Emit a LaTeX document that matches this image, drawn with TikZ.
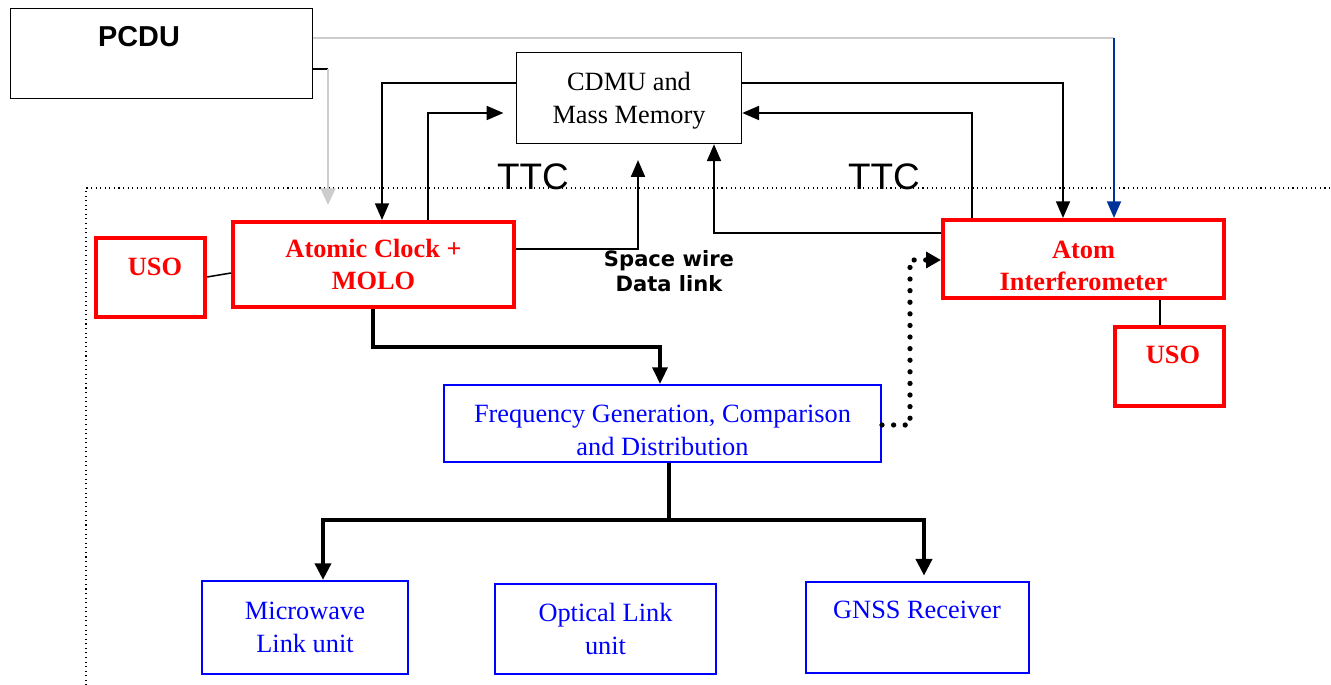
\documentclass[tikz,border=0pt]{standalone}
\usepackage{fontspec}
\setmainfont{Liberation Serif}
\setsansfont{Liberation Sans}
\newfontfamily\wirefont{DejaVu Sans}
\usetikzlibrary{arrows.meta}

\definecolor{powergrey}{RGB}{205,205,205}
\definecolor{busblue}{RGB}{0,51,153}

\tikzset{
  unit_box/.style={draw,line width=0.95pt,inner sep=0pt,align=center,font=\fontsize{15}{18.7}\selectfont},
  red_box/.style={unit_box,draw=red,line width=2.3pt,text=red,font=\fontsize{15}{18.2}\selectfont\bfseries},
  blue_box/.style={unit_box,draw=blue,line width=1.2pt,text=blue},
  unit_text/.style={align=center,font=\fontsize{15}{18.7}\selectfont},
  red_label/.style={align=center,text=red,font=\fontsize{15}{18.2}\selectfont\bfseries},
  blue_label/.style={unit_text,text=blue},
  ttc_label/.style={font=\sffamily\fontsize{21}{24}\selectfont},
  thin_link/.style={line width=0.85pt},
  thin_tip/.style={-{Triangle[length=9.5pt,width=8pt]}},
  clock_link/.style={line width=2.2pt,-{Triangle[length=9.5pt,width=8.5pt]}},
  dist_link/.style={line width=2.8pt,-{Triangle[length=9.5pt,width=9pt]}},
  dot_link/.style={line width=3pt,line cap=round,dash pattern=on 0pt off 6.6pt,-{Triangle[length=8.5pt,width=9pt]}}
}

\begin{document}
\begin{tikzpicture}[x=0.02cm,y=-0.02cm]
\useasboundingbox (0,0) rectangle (1331,685);

% payload frame
\draw[dotted,line width=0.6pt] (86,690) -- (86,188) -- (1340,188);

% units
\node[unit_box,minimum width=6.04cm,minimum height=1.8cm] (pcdu) at (161.5,53.5) {};
\node[font=\sffamily\bfseries\fontsize{16.4}{19}\selectfont] (pcdutext) at (139,37) {PCDU};
\node[unit_box,minimum width=4.5cm,minimum height=1.82cm] (cdmu) at (629,98) {};
\node[unit_text] (cdmutext) at (629,100.5) {CDMU and\\Mass Memory};
\node[red_box,minimum width=5.62cm,minimum height=1.7cm] (clock) at (373.5,264.5) {Atomic Clock +\\MOLO};
\node[red_box,minimum width=2.18cm,minimum height=1.58cm] (usol) at (150.5,277.5) {};
\node[red_label] (usoltext) at (155,267) {USO};
\node[red_box,minimum width=5.62cm,minimum height=1.56cm] (atom) at (1083.5,259) {};
\node[red_label] (atomtext) at (1083.5,265.5) {Atom\\Interferometer};
\node[red_box,minimum width=2.18cm,minimum height=1.58cm] (usor) at (1169.5,366.5) {};
\node[red_label] (usortext) at (1173,355) {USO};
\node[blue_box,minimum width=8.74cm,minimum height=1.54cm] (freq) at (662.5,423.5) {};
\node[blue_label] (freqtext) at (662.5,430.5) {Frequency Generation, Comparison\\and Distribution};
\node[blue_box,minimum width=4.12cm,minimum height=1.86cm] (micro) at (305,627.5) {Microwave\\Link unit};
\node[blue_box,minimum width=4.42cm,minimum height=1.8cm] (optic) at (605.5,629) {Optical Link\\unit};
\node[blue_box,minimum width=4.46cm,minimum height=1.82cm] (gnss) at (917.5,627.5) {};
\node[blue_label] (gnsstext) at (917,610) {GNSS Receiver};

% labels
\node[ttc_label] (ttcl) at (533,177) {TTC};
\node[ttc_label] (ttcr) at (884,177) {TTC};
\node[font=\wirefont\bfseries\fontsize{12}{14.2}\selectfont,align=center] (wire) at (669,271.5) {Space wire\\Data link};

% power
\coordinate (feed) at (1114,38);
\draw[powergrey,line width=1pt] (pcdu.east |- feed) -- (feed);
\draw[busblue,line width=1pt,thin_tip] (feed) -- (atom.north -| feed);
\draw[line width=1pt] (pcdu.east |- 0,69) -- (328,69);
\draw[powergrey,line width=1pt,-{Triangle[length=9.5pt,width=8.5pt]}] (328,69) -- (328,205);

% TTC links
\draw[thin_link,thin_tip] (cdmu.west |- 0,83) -| (clock.north -| 382,0);
\draw[thin_link,thin_tip,shorten >=7pt] (clock.north -| 428,0) |- (cdmu.west |- 0,113);
\draw[thin_link,thin_tip,shorten >=9pt] (clock.east |- 0,249) -| (cdmu.south -| 638,0);
\draw[thin_link,thin_tip] (cdmu.east |- 0,83) -| (atom.north -| 1063,0);
\draw[thin_link,thin_tip] (atom.north -| 972,0) |- (cdmu.east |- 0,113);
\draw[thin_link,thin_tip] (atom.west |- 0,233) -| (cdmu.south -| 714,0);

% USO links
\draw[thin_link] (usol.east |- 0,277) -- (clock.west |- 0,273);
\draw[thin_link] (atom.south -| 1160,0) -- (usor.north -| 1160,0);

% frequency distribution
\draw[clock_link] (clock.south -| 373,0) -- (373,347) -| (freq.north -| 660,0);
\draw[dist_link] (freq.south -| 669,0) -- (669,520) -| (micro.north -| 323,0);
\draw[dist_link,shorten >=3pt] (669,520) -| (gnss.north -| 924,0);
\draw[dot_link] (freq.east |- 0,425) -| (910,260) -- (atom.west |- 0,260);
\end{tikzpicture}
\end{document}
